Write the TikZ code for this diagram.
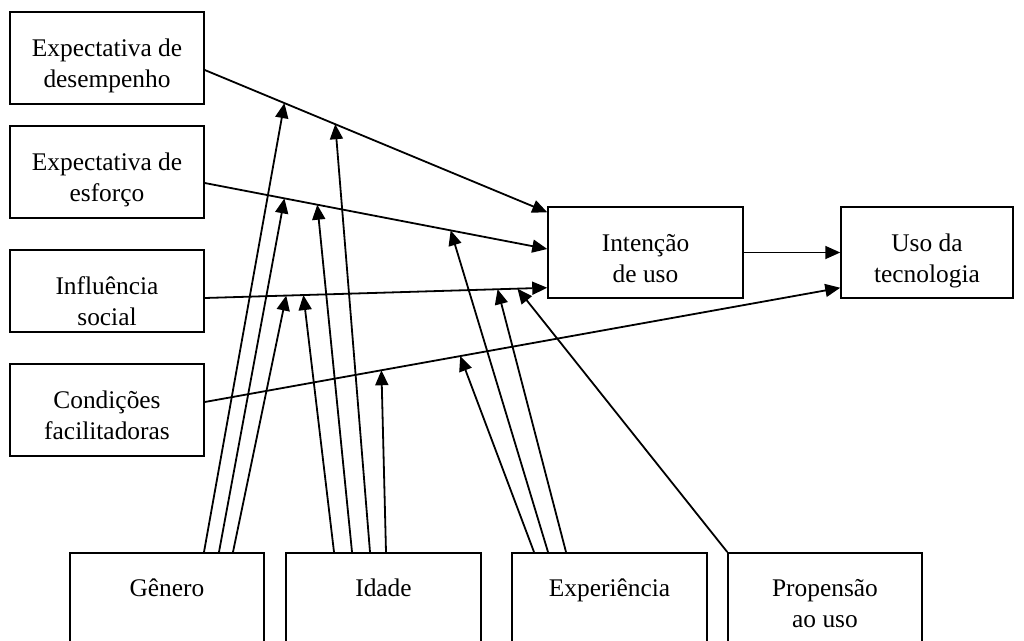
\documentclass[tikz,border=0pt]{standalone}
\usepackage{fontspec}
\setmainfont{Liberation Serif}
\usetikzlibrary{arrows.meta}
\begin{document}
\begin{tikzpicture}[x=1pt,y=-1pt,
  box/.style={draw, line width=1.5pt, inner sep=0pt, align=center,
    font=\fontsize{25.4}{31}\selectfont, minimum width=194pt, minimum height=92pt,
    text height=75pt, text depth=17pt},
  onebox/.style={box, anchor=north, text height=44pt, text depth=100pt},
  twobox/.style={box, anchor=north, text height=75pt, text depth=69pt},
  conn/.style={line width=1.8pt, -{Triangle[length=15pt,width=13pt]}}]
\useasboundingbox (0,0) rectangle (1024,640);
\clip (0,0) rectangle (1024,640);

\node[box] (ed) at (107,58) {Expectativa de\\desempenho};
\node[box] (ee) at (107,172) {Expectativa de\\esforço};
\node[box, minimum height=82pt, text depth=7pt] (is) at (107,291) {Influência\\social};
\node[box] (cf) at (107,410) {Condições\\facilitadoras};
\node[box, minimum width=195pt, minimum height=91pt, text depth=16pt] (int) at (645.5,252.5) {Intenção\\de uso};
\node[box, minimum width=172pt, minimum height=91pt, text depth=16pt] (uso) at (927,252.5) {Uso da\\tecnologia};

\node[onebox] (gen) at (167,552) {Gênero};
\node[onebox, minimum width=195pt] (ida) at (383.5,552) {Idade};
\node[onebox, minimum width=195pt] (exp) at (609.5,552) {Experiência};
\node[twobox] (pro) at (825,552) {Propensão\\ao uso};

\draw[conn] ([yshift=-12pt]ed.east) -- ([yshift=-6pt]int.north west)
  coordinate[pos=0.2326] (t11) coordinate[pos=0.381] (t12);
\draw[conn] ([yshift=-11pt]ee.east) -- ([yshift=3.5pt]int.west)
  coordinate[pos=0.2326] (t21) coordinate[pos=0.3285] (t22) coordinate[pos=0.718] (t23);
\draw[conn] ([yshift=-7pt]is.east) -- ([yshift=11pt]int.south west)
  coordinate[pos=0.238] (t31) coordinate[pos=0.288] (t32) coordinate[pos=0.855] (t33) coordinate[pos=0.913] (t34);
\draw[conn] ([yshift=8pt]cf.east) -- ([yshift=11pt]uso.south west)
  coordinate[pos=0.278] (t41) coordinate[pos=0.402] (t42);
\draw[conn] (int.east) -- (uso.west);

\draw[conn] ([xshift=37pt]gen.north) -- (t11);
\draw[conn] ([xshift=52pt]gen.north) -- (t21);
\draw[conn] ([xshift=66pt]gen.north) -- (t31);

\draw[conn] ([xshift=-49.5pt]ida.north) -- (t32);
\draw[conn] ([xshift=-31.5pt]ida.north) -- (t22);
\draw[conn] ([xshift=-13.5pt]ida.north) -- (t12);
\draw[conn] ([xshift=2.5pt]ida.north) -- (t41);

\draw[conn] ([xshift=-75.5pt]exp.north) -- (t42);
\draw[conn] ([xshift=-61.5pt]exp.north) -- (t23);
\draw[conn] ([xshift=-43.5pt]exp.north) -- (t33);

\draw[conn] (pro.north west) -- (t34);
\end{tikzpicture}
\end{document}
